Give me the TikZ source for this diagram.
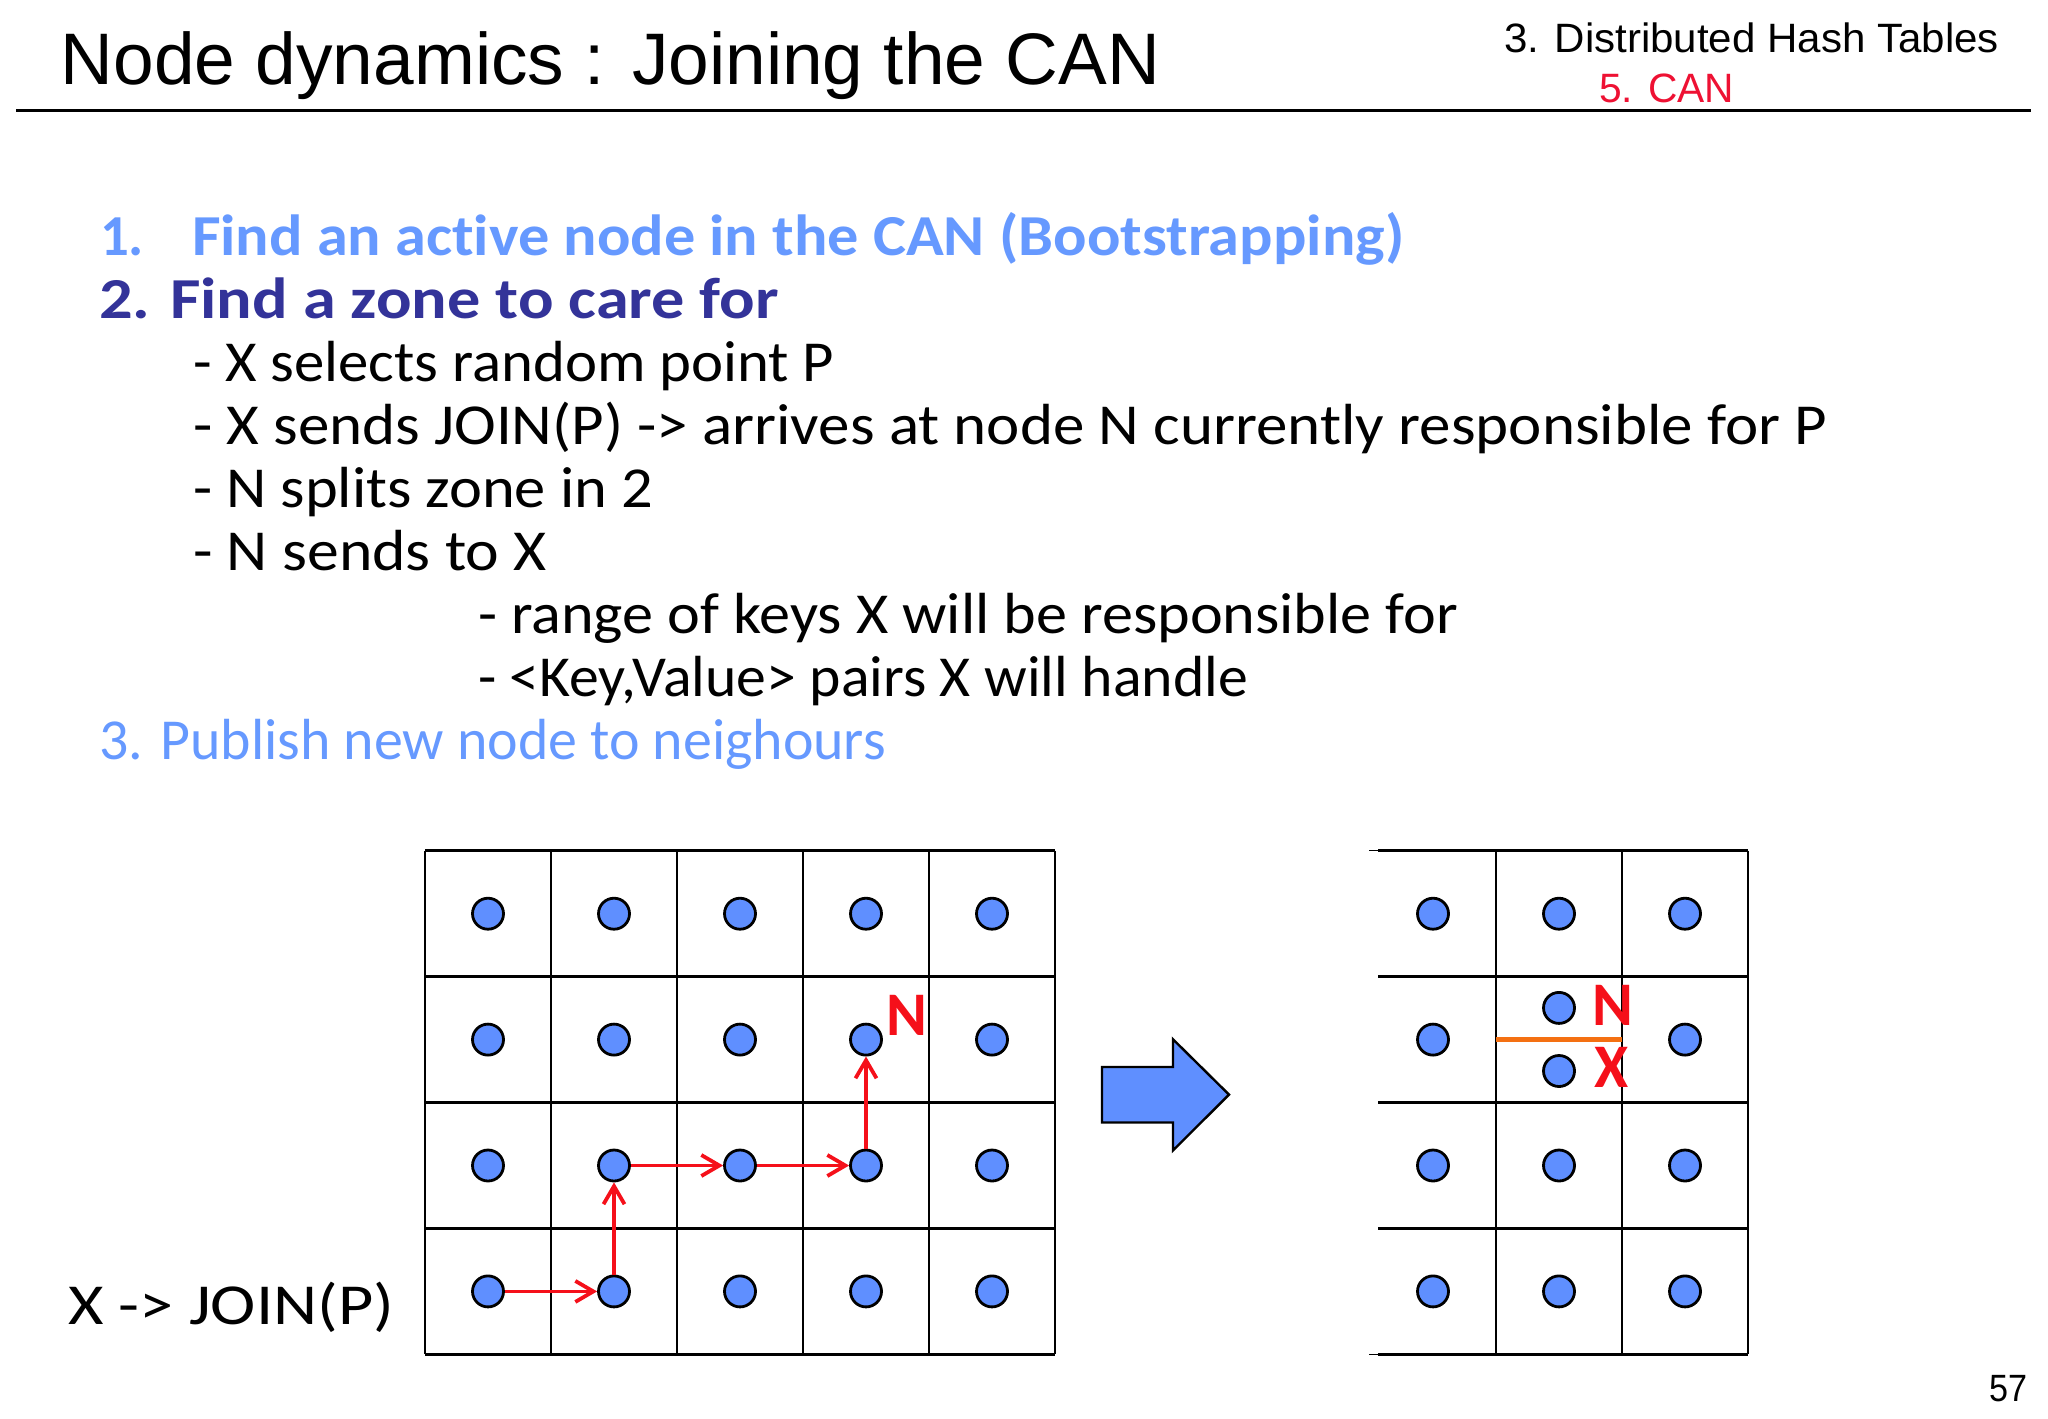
\documentclass[tikz,border=0pt]{standalone}
\usepackage{fontspec}
\setmainfont{Liberation Sans}
\newfontfamily\handfont[Ligatures=NoCommon]{Carlito}
\usetikzlibrary{arrows.meta}
\definecolor{lblue}{HTML}{6699FF}
\definecolor{dblue}{HTML}{333399}
\definecolor{dotblue}{HTML}{5F8FFF}
\definecolor{headred}{HTML}{EE1133}
\definecolor{inkred}{HTML}{F5101A}
\definecolor{splitorange}{HTML}{F47012}
\newsavebox\fitbox
\newcommand\fitw[2]{\sbox\fitbox{#2}\pgfmathsetmacro\fitr{(#1*0.5pt)/\wd\fitbox}\scalebox{\fitr}[1]{\usebox\fitbox}}
\tikzset{
  x=0.5pt,y=-0.5pt,
  txt/.style={anchor=base west,inner sep=0pt,outer sep=0pt},
  body/.style={txt,font=\handfont\fontsize{29pt}{32pt}\selectfont},
  bodybold/.style={txt,font=\handfont\bfseries\fontsize{29pt}{32pt}\selectfont},
  gridline/.style={draw=black,line width=1.4pt},
  dot/.style={circle,draw=black,fill=dotblue,line width=1.4pt,minimum size=15.5pt,inner sep=0pt},
  hop/.style={draw=inkred,line width=1.9pt,-{Straight Barb[length=9pt,width=10.5pt]}},
  ink/.style={txt,text=inkred,font=\handfont\bfseries\fontsize{31pt}{32pt}\selectfont},
}
\begin{document}
\begin{tikzpicture}
\useasboundingbox (0,0) rectangle (2048,1418);
% header
\node[txt,font=\fontsize{36.5pt}{40pt}\selectfont] (title) at (61,84) {\fitw{1099}{Node dynamics : Joining the CAN}};
\node[txt,font=\fontsize{20.5pt}{24pt}\selectfont] (chapter) at (1504,53) {\fitw{495}{3. Distributed Hash Tables}};
\node[txt,text=headred,font=\fontsize{20.5pt}{24pt}\selectfont] (section) at (1599,103) {\fitw{135}{5. CAN}};
\draw[line width=1.1pt] (16,110.5) -- (2031,110.5);
\node[txt,font=\fontsize{19pt}{24pt}\selectfont] (page) at (1989,1401) {\fitw{38}{57}};
% body
\node[bodybold,text=lblue] (n1) at (100,255) {\fitw{44}{1.}};
\node[bodybold,text=lblue] (t1) at (192,255) {\fitw{1212}{Find an active node in the CAN (Bootstrapping)}};
\node[bodybold,text=dblue] (t2) at (99,318) {\fitw{680}{2. Find a zone to care for}};
\node[body] (t3) at (193,381) {\fitw{641}{- X selects random point P}};
\node[body] (t4) at (193,444) {\fitw{1634}{- X sends JOIN(P) -> arrives at node N currently responsible for P}};
\node[body] (t5) at (193,507) {\fitw{460}{- N splits zone in 2}};
\node[body] (t6) at (193,570) {\fitw{354}{- N sends to X}};
\node[body] (t7) at (478,633) {\fitw{980}{- range of keys X will be responsible for}};
\node[body] (t8) at (478,696) {\fitw{770}{- <Key,Value> pairs X will handle}};
\node[body,text=lblue] (t9) at (99,759) {\fitw{787}{3. Publish new node to neighours}};
\node[body] (join) at (68,1324) {\fitw{326}{X -> JOIN(P)}};
% left grid
\foreach \x in {425,551,677,803,929,1055} \draw[gridline] (\x,850.7) -- (\x,1354.3);
\foreach \y in {850.7,976.6,1102.5,1228.4,1354.3} \draw[gridline] (425,\y) -- (1055,\y);
% right grid
\foreach \x in {1496,1622,1748} \draw[gridline] (\x,850.7) -- (\x,1354.3);
\foreach \y in {850.7,976.6,1102.5,1228.4,1354.3} \draw[gridline] (1378,\y) -- (1748,\y);
\foreach \y in {850.7,1354.3} \draw[draw=black,line width=0.6pt] (1369,\y) -- (1378,\y);
% left dots
\foreach \c/\x in {1/488,2/614,3/740,4/866,5/992}
  \foreach \r/\y in {1/913.7,2/1039.6,3/1165.5,4/1291.4}
    \node[dot] (a\c\r) at (\x,\y) {};
% right dots
\foreach \c/\x in {1/1433,2/1559,3/1685}
  \foreach \r/\y in {1/913.7,2/1039.6,3/1165.5,4/1291.4}
    {\ifnum\c\r=22 \else \node[dot] (b\c\r) at (\x,\y) {};\fi}
\node[dot] (bn) at (1559,1007.9) {};
\node[dot] (bx) at (1559,1071) {};
% route
\draw[hop] (a14) -- (a24);
\draw[hop] (a24) -- (a23);
\draw[hop] (a23) -- (a33);
\draw[hop] (a33) -- (a43);
\draw[hop] (a43) -- (a42);
% split line
\draw[draw=splitorange,line width=2.4pt] (1496,1039.6) -- (1622,1039.6);
% red labels
\node[ink] (nl) at (886,1035) {N};
\node[ink] (nr) at (1592,1025) {N};
\node[ink] (xr) at (1594,1087) {X};
% block arrow
\draw[draw=black,fill=dotblue,line width=1.2pt,line join=miter] (1102,1067) -- (1173,1067) -- (1173,1039.3) -- (1229,1094.6) -- (1173,1150.4) -- (1173,1122.5) -- (1102,1122.5) -- cycle;
\end{tikzpicture}
\end{document}
